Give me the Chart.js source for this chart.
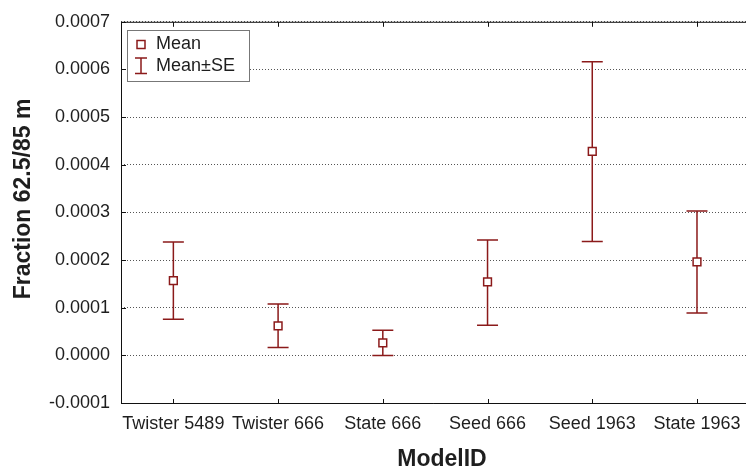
<!DOCTYPE html>
<html>
<head>
<meta charset="utf-8">
<script src="https://cdn.jsdelivr.net/npm/chart.js@4/dist/chart.umd.min.js"></script>
<style>
  html, body { margin: 0; padding: 0; background: #fff; }
  #wrap { width: 746px; height: 474px; }
</style>
</head>
<body>
<div id="wrap"><canvas id="c" width="746" height="474"></canvas></div>
<script>
// Group labels along the horizontal axis
const categories = ['Twister 5489', 'Twister 666', 'State 666', 'Seed 666', 'Seed 1963', 'State 1963'];
// Group means and the Mean-SE / Mean+SE limits
const means   = [0.000157, 0.000062, 0.000026, 0.000154, 0.000428, 0.000196];
const seLower = [0.0000755, 0.0000165, -0.0000005, 0.0000630, 0.000239, 0.0000890];
const seUpper = [0.000238, 0.000108, 0.0000525, 0.000242, 0.000616, 0.000303];
// Value axis ticks
const yTicks = [-0.0001, 0, 0.0001, 0.0002, 0.0003, 0.0004, 0.0005, 0.0006, 0.0007];

const RED = '#8b1a1a';
const INK = '#1e1e1e';
const FONT = '"Liberation Sans", Arial, Helvetica, sans-serif';

// Whisker bars, frame, inward ticks, legend and axis titles
const decorations = {
  id: 'decorations',
  beforeDatasetsDraw(chart) {
    const { ctx, scales: { x, y } } = chart;
    ctx.save();
    ctx.strokeStyle = RED;
    ctx.lineWidth = 1.5;
    categories.forEach((_, i) => {
      const px = x.getPixelForValue(i);
      const top = y.getPixelForValue(seUpper[i]);
      const bot = y.getPixelForValue(seLower[i]);
      ctx.beginPath();
      ctx.moveTo(px, top); ctx.lineTo(px, bot);
      ctx.moveTo(px - 10.5, top); ctx.lineTo(px + 10.5, top);
      ctx.moveTo(px - 10.5, bot); ctx.lineTo(px + 10.5, bot);
      ctx.stroke();
    });
    ctx.restore();
  },
  afterDraw(chart) {
    const { ctx, chartArea: a, scales: { x, y } } = chart;
    ctx.save();

    // frame: left, top, bottom
    ctx.strokeStyle = '#111';
    ctx.lineWidth = 1;
    ctx.beginPath();
    ctx.moveTo(a.left + 0.5, a.top + 0.5); ctx.lineTo(a.left + 0.5, a.bottom + 0.5);
    ctx.moveTo(a.left, a.top + 0.5); ctx.lineTo(a.right, a.top + 0.5);
    ctx.moveTo(a.left, a.bottom + 0.5); ctx.lineTo(a.right, a.bottom + 0.5);
    // inward ticks
    yTicks.forEach(v => {
      const py = Math.round(y.getPixelForValue(v)) + 0.5;
      ctx.moveTo(a.left, py); ctx.lineTo(a.left + 5, py);
    });
    categories.forEach((_, i) => {
      const px = Math.round(x.getPixelForValue(i)) + 0.5;
      ctx.moveTo(px, a.top); ctx.lineTo(px, a.top + 5);
      ctx.moveTo(px, a.bottom + 1); ctx.lineTo(px, a.bottom - 4);
    });
    ctx.stroke();

    // legend
    const lx = 127.5, ly = 30.5, lw = 122, lh = 51;
    ctx.fillStyle = '#fff';
    ctx.fillRect(lx, ly, lw, lh);
    ctx.strokeStyle = '#777';
    ctx.strokeRect(lx, ly, lw, lh);

    ctx.strokeStyle = RED;
    ctx.lineWidth = 1.5;
    ctx.fillStyle = '#fff';
    ctx.beginPath();
    ctx.rect(137, 40.5, 8, 8);
    ctx.fill(); ctx.stroke();

    ctx.beginPath();
    ctx.moveTo(141, 58); ctx.lineTo(141, 73.5);
    ctx.moveTo(135, 58); ctx.lineTo(147, 58);
    ctx.moveTo(135, 73.5); ctx.lineTo(147, 73.5);
    ctx.stroke();

    ctx.fillStyle = INK;
    ctx.font = '18px ' + FONT;
    ctx.textAlign = 'left';
    ctx.textBaseline = 'middle';
    ctx.fillText('Mean', 156, 44.5);
    ctx.fillText('Mean\u00B1SE', 156, 66.5);

    // axis titles
    ctx.font = 'bold 23px ' + FONT;
    ctx.textAlign = 'center';
    ctx.fillText('ModelID', 442, 460);
    ctx.translate(24, 199);
    ctx.rotate(-Math.PI / 2);
    ctx.fillText('Fraction 62.5/85 m', 0, 0);

    ctx.restore();
  }
};

new Chart(document.getElementById('c'), {
  type: 'scatter',
  data: {
    datasets: [{
      label: 'Mean',
      data: means.map((m, i) => ({ x: i, y: m })),
      pointStyle: 'rect',
      pointRadius: 5.5,
      pointHoverRadius: 5.5,
      pointBorderWidth: 1.5,
      pointBorderColor: RED,
      pointBackgroundColor: '#fff',
      showLine: false
    }]
  },
  options: {
    responsive: false,
    animation: false,
    devicePixelRatio: 1,
    layout: { autoPadding: false, padding: { top: 18, left: 0, right: 0, bottom: 0 } },
    plugins: { legend: { display: false }, tooltip: { enabled: false } },
    events: [],
    scales: {
      x: {
        type: 'linear',
        min: -0.5,
        max: 5.468,
        afterBuildTicks(scale) { scale.ticks = categories.map((_, i) => ({ value: i })); },
        afterFit(scale) {
          scale.height = 71;
          scale.paddingLeft = 0;
          scale.paddingRight = 0;
        },
        grid: { display: false, drawTicks: false },
        border: { display: false },
        ticks: {
          autoSkip: false,
          maxRotation: 0,
          padding: 10,
          color: INK,
          font: { family: FONT, size: 18 },
          callback: v => categories[v]
        }
      },
      y: {
        min: -0.0001,
        max: 0.0007,
        afterBuildTicks(scale) { scale.ticks = yTicks.map(v => ({ value: v })); },
        afterFit(scale) { scale.width = 121; },
        grid: { color: '#555', lineWidth: 1, drawTicks: false },
        border: { display: false, dash: [1, 2] },
        ticks: {
          padding: 11,
          color: INK,
          font: { family: FONT, size: 18 },
          callback: v => v.toFixed(4)
        }
      }
    }
  },
  plugins: [decorations]
});
</script>
</body>
</html>
